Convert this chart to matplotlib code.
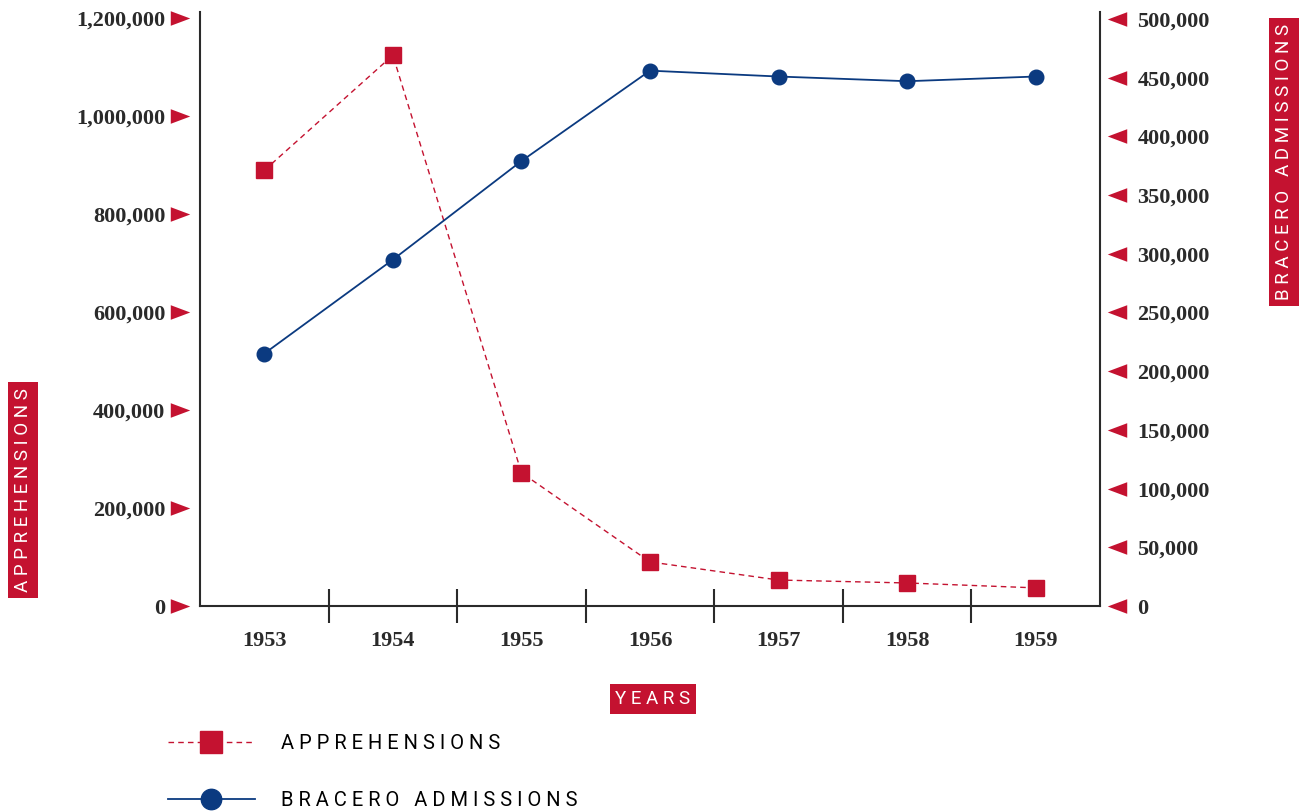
import matplotlib.pyplot as plt
from matplotlib.transforms import blended_transform_factory

# values
years = ['1953', '1954', '1955', '1956', '1957', '1958', '1959']
apprehensions = [889000, 1124000, 272000, 90000, 53000, 47000, 37000]
bracero = [215000, 295000, 379000, 456000, 451000, 447000, 451000]

left_ticks = [0, 200000, 400000, 600000, 800000, 1000000, 1200000]
left_labels = ['0', '200,000', '400,000', '600,000', '800,000', '1,000,000', '1,200,000']
right_ticks = [0, 50000, 100000, 150000, 200000, 250000, 300000, 350000, 400000, 450000, 500000]
right_labels = ['0', '50,000', '100,000', '150,000', '200,000', '250,000', '300,000',
                '350,000', '400,000', '450,000', '500,000']

red = '#c41230'
navy = '#0b3a80'
dark = '#2a2a2a'
serif = 'Liberation Serif'
sans = 'Roboto'

# flat triangles for the tick marks
tri_right = [(-1, -0.75), (1, 0), (-1, 0.75), (-1, -0.75)]
tri_left = [(1, -0.75), (-1, 0), (1, 0.75), (1, -0.75)]


def spaced(s):
    return '   '.join(' '.join(w) for w in s.split(' '))


fig = plt.figure(figsize=(13.03, 8.11), dpi=100)
ax = fig.add_axes([200/1303, 205/811, 900/1303, 594/811])
ax2 = ax.twinx()

x = list(range(len(years)))
l1, = ax.plot(x, apprehensions, color=red, ls=(0, (4, 3)), lw=1, marker='s', ms=11.5,
              mfc=red, mec=red, label=spaced('APPREHENSIONS'))
l2, = ax2.plot(x, bracero, color=navy, lw=1.3, marker='o', ms=10.5,
               mfc=navy, mec=navy, label=spaced('BRACERO ADMISSIONS'))

ax.set_xlim(-0.5, 6.5)
ax.set_ylim(0, 1200000*594/588)
ax2.set_ylim(0, 500000*594/587)

for s in ['top', 'right']:
    ax.spines[s].set_visible(False)
for s in ['top', 'left', 'bottom']:
    ax2.spines[s].set_visible(False)
for sp in [ax.spines['left'], ax.spines['bottom'], ax2.spines['right']]:
    sp.set_color(dark)
    sp.set_linewidth(1.5)

# y ticks with red triangles
ax.set_yticks(left_ticks)
ax.set_yticklabels(left_labels, fontfamily=serif, fontweight='bold', fontsize=16, color=dark)
ax.tick_params(axis='y', length=0, pad=25)
ax2.set_yticks(right_ticks)
ax2.set_yticklabels(right_labels, fontfamily=serif, fontweight='bold', fontsize=16, color=dark)
ax2.tick_params(axis='y', length=0, pad=27)

tl = blended_transform_factory(ax.transAxes, ax.transData)
ax.plot([-20/900]*len(left_ticks), left_ticks, transform=tl, ls='none', marker=tri_right,
        ms=14, color=red, mec='none', clip_on=False)
tr = blended_transform_factory(ax2.transAxes, ax2.transData)
ax2.plot([1 + 17/900]*len(right_ticks), right_ticks, transform=tr, ls='none', marker=tri_left,
         ms=14, color=red, mec='none', clip_on=False)

# x axis: year labels with dividers between them
ax.set_xticks(x)
ax.set_xticklabels(years, fontfamily=serif, fontweight='bold', fontsize=16, color=dark)
ax.tick_params(axis='x', which='major', length=0, pad=18)
ax.set_xticks([i + 0.5 for i in x[:-1]], minor=True)
ax.tick_params(axis='x', which='minor', direction='inout', length=24, width=1.5, color=dark)

# red label boxes
box = dict(boxstyle='square,pad=0.3', facecolor=red, edgecolor='none')
fig.text(23/1303, 1 - 490/811, spaced('APPREHENSIONS'), rotation=90, color='white',
         fontsize=13.5, fontfamily=sans, ha='center', va='center', bbox=box)
fig.text(1284/1303, 1 - 162/811, spaced('BRACERO ADMISSIONS'), rotation=90, color='white',
         fontsize=13.5, fontfamily=sans, ha='center', va='center', bbox=box)
fig.text(653/1303, 1 - 699/811, spaced('YEARS'), color='white', fontsize=13.5,
         fontfamily=sans, ha='center', va='center', bbox=box)

fig.legend(handles=[l1, l2], loc='center left', bbox_to_anchor=(158/1303, 1 - 772/811),
           frameon=False, borderpad=0, handlelength=4.3, handletextpad=1.3,
           labelspacing=1.9, markerscale=1.4, prop={'family': sans, 'size': 14.5})

fig.savefig('out.png', dpi=100)
